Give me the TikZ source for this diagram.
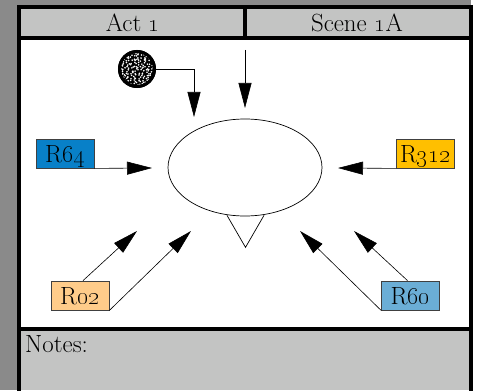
\documentclass[tikz,border=0pt]{standalone}
\usepackage{xcolor}
\usepackage{tikz}
\usetikzlibrary{shapes,arrows,positioning,calc,patterns,arrows.meta}

\definecolor{bggrey}{RGB}{138,138,138}
\definecolor{bandgrey}{RGB}{195,196,195}
\definecolor{rblue}{RGB}{8,128,200}
\definecolor{rgold}{RGB}{255,191,0}
\definecolor{rpeach}{RGB}{255,204,138}
\definecolor{rsky}{RGB}{107,174,214}

\begin{document}
\begin{tikzpicture}[x=1pt, y=-1pt,
    rbox/.style={draw=black!75, line width=0.8pt, minimum width=58pt, minimum height=29pt,
        inner sep=0pt, text height=17pt, text depth=0pt, font=\Huge},
    flow/.style={line width=0.6pt, -{Triangle[length=25pt,width=13pt]}}]
    \useasboundingbox (0,0) rectangle (478,390);
    \fill[white] (0,0) rectangle (478,390);
    \fill[bggrey] (0,0) rectangle (471,390);
    \fill[white] (21,9) rectangle (469,390);
    \fill[bandgrey] (21,9) rectangle (469,36);
    \fill[bandgrey] (21,331) rectangle (469,390);
    \draw[line width=4pt] (19,392) -- (19,7) -- (471,7) -- (471,392);
    \draw[line width=4pt] (19,38) -- (471,38);
    \draw[line width=4pt] (19,329) -- (471,329);
    \draw[line width=4pt] (245,9) -- (245,36);

    % Header and notes
    \node[anchor=base, font=\Huge] (act) at (133,32) {Act \oldstylenums{1}};
    \node[anchor=base, font=\Huge] (scene) at (357,32) {Scene \oldstylenums{1}A};
    \node[anchor=base west, font=\Huge, inner sep=0pt] (notes) at (25,352) {Notes:};

    % Centre
    \node[draw, ellipse, line width=0.7pt, minimum width=154pt, minimum height=97pt, inner sep=0pt] (hub) at (245,167.5) {};
    \draw[line width=0.7pt] ($(hub.south)+(-18,-1)$) -- ($(hub.south)+(0.5,31)$) -- ($(hub.south)+(19,-1)$);
    \node[circle, minimum size=38pt, inner sep=0pt, fill=black] (cue) at (137,69) {};
    \pgfmathsetseed{7}
    \begin{scope}
        \clip (cue) circle (16pt);
        \foreach \a in {-17,-14.5,...,16}
            \foreach \b in {-17,-14.5,...,16}
                \fill[white] ($(cue)+(\a+2.5*rnd,\b+2.5*rnd)$) circle (0.9pt);
    \end{scope}
    \draw[line width=3pt] (cue) circle (17.5pt);

    % Boxes
    \node[rbox, fill=rblue] (r64) at (65,153.5) {R\oldstylenums{64}};
    \node[rbox, fill=rgold] (r312) at (425.5,153.5) {R\oldstylenums{312}};
    \node[rbox, fill=rpeach] (r02) at (80,295.5) {R\oldstylenums{02}};
    \node[rbox, fill=rsky] (r60) at (410.5,295.5) {R\oldstylenums{60}};

    % Arrow ends
    \coordinate (cuetip) at (194,117);
    \coordinate (topfrom) at (245,50);
    \coordinate (toptip) at (245,108);
    \coordinate (lefttip) at (152,168);
    \coordinate (righttip) at (338,168);
    \coordinate (lowtipa) at (137,231);
    \coordinate (lowtipb) at (191,231);
    \coordinate (lowtipc) at (300,231);
    \coordinate (lowtipd) at (354,231);

    \draw[flow] (cue.east) -| (cuetip);
    \draw[flow] (topfrom) -- (toptip);
    \draw[flow] (r64.south east) -- (lefttip);
    \draw[flow] (r312.south west) -- (righttip);
    \draw[flow] ($(r02.north)+(3,0)$) -- (lowtipa);
    \draw[flow] (r02.south east) -- (lowtipb);
    \draw[flow] (r60.south west) -- (lowtipc);
    \draw[flow] ($(r60.north)+(-3,0)$) -- (lowtipd);
\end{tikzpicture}
\end{document}
